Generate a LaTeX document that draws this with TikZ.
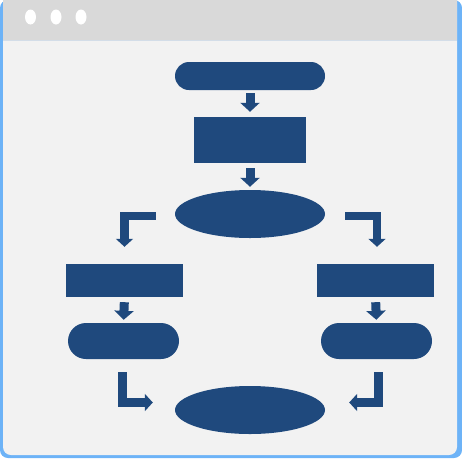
\documentclass[tikz,border=0pt]{standalone}
\usetikzlibrary{shapes.geometric,arrows.meta}
\definecolor{navy}{HTML}{1F497D}
\definecolor{frameblue}{HTML}{6DB3F7}
\definecolor{barGrey}{HTML}{D9D9D9}
\definecolor{bodyGrey}{HTML}{F2F2F2}
\definecolor{sepline}{HTML}{D3DDE8}
\tikzset{
  stadium/.style={fill=navy, draw=none, rectangle, rounded corners=#1, inner sep=0pt},
  box/.style={fill=navy, draw=none, rectangle, inner sep=0pt},
  oval/.style={fill=navy, draw=none, ellipse, inner sep=0pt, minimum width=150, minimum height=48},
  blockarrow/.style={draw=navy, line width=9pt, line join=miter, line cap=butt,
    -{Triangle[width=19pt,length=9pt]}},
  elbowarrow/.style={draw=navy, line width=8.6pt, line join=miter, line cap=butt,
    -{Triangle[width=17pt,length=8pt]}},
  dot/.style={fill=white, draw=none, ellipse, inner sep=0pt, minimum width=11, minimum height=15}
}
\begin{document}
\begin{tikzpicture}[x=1pt,y=-1pt]
\useasboundingbox (0,0) rectangle (462,458);
% window frame
\fill[frameblue, rounded corners=8] (0,0) rectangle (462,458);
\fill[bodyGrey, rounded corners=8] (3,-10) rectangle (457,455);
\fill[barGrey] (3,0) rectangle (457,40);
\draw[sepline, line width=0.8pt] (3,40) -- (457,40);
\node[dot] (d1) at (30.5,17) {};
\node[dot] (d2) at (56,17) {};
\node[dot] (d3) at (81,17) {};
% nodes
\node[stadium=14, minimum width=150, minimum height=28] (start) at (250,76) {};
\node[box, minimum width=112, minimum height=46] (proc) at (250,140) {};
\node[oval] (dec) at (250,214) {};
\node[box, minimum width=117, minimum height=33] (lbox) at (124.5,280.5) {};
\node[box, minimum width=117, minimum height=33] (rbox) at (375.5,280.5) {};
\node[stadium=18, minimum width=111, minimum height=36] (lst) at (123.5,341) {};
\node[stadium=18, minimum width=111, minimum height=36] (rst) at (376.5,341) {};
\node[oval] (fin) at (250,410) {};
% connectors
\draw[blockarrow, shorten <=3pt, shorten >=5pt] (start.south) -- (proc.north);
\draw[blockarrow, shorten <=5pt, shorten >=3pt] (proc.south) -- (dec.north);
\draw[elbowarrow] ([xshift=-19pt,yshift=-2pt]dec.west) -| ([yshift=17pt]lbox.north);
\draw[elbowarrow] ([xshift=20pt,yshift=-2pt]dec.east) -| ([xshift=1.5pt,yshift=17pt]rbox.north);
\draw[blockarrow, shorten <=5pt, shorten >=3pt] (lbox.south) -- (lst.north);
\draw[blockarrow, shorten <=5pt, shorten >=3pt] (rbox.south) -- (rst.north);
\draw[elbowarrow] ([xshift=-1pt,yshift=-13pt]lst.south) |- ([xshift=-22pt,yshift=7.5pt]fin.west);
\draw[elbowarrow] ([xshift=2pt,yshift=-13pt]rst.south) |- ([xshift=24pt,yshift=7.5pt]fin.east);
\end{tikzpicture}
\end{document}
